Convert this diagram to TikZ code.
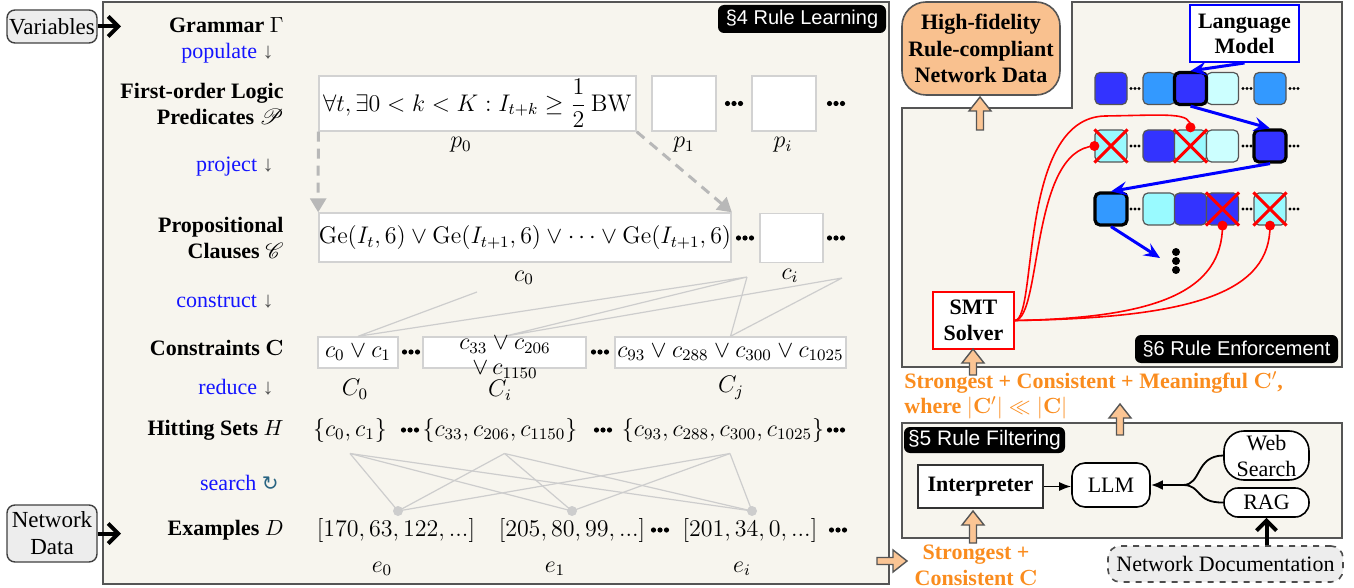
\documentclass[tikz,border=0pt]{standalone}
\usepackage{amsmath,amssymb,mathrsfs}
\usepackage[no-math]{fontspec}
\setmainfont{Liberation Serif}
\setsansfont{Liberation Sans}
\newfontfamily\djv{DejaVu Sans}
\usetikzlibrary{arrows.meta,calc}
\definecolor{panelbg}{RGB}{247,245,238}
\definecolor{edgec}{RGB}{85,85,85}
\definecolor{peach}{RGB}{251,197,148}
\definecolor{outorange}{RGB}{249,193,143}
\definecolor{orangetxt}{RGB}{250,140,30}
\definecolor{lgray}{RGB}{205,205,205}
\definecolor{boxgray}{RGB}{210,210,210}
\definecolor{dblue}{RGB}{51,51,255}
\definecolor{mblue}{RGB}{51,153,255}
\definecolor{xcyan}{RGB}{153,250,255}
\definecolor{pcyan}{RGB}{204,255,255}
\definecolor{labblue}{RGB}{20,20,255}
\definecolor{tealc}{RGB}{40,100,130}
\newcommand{\txtsz}{\fontsize{11}{13}\selectfont}
\newcommand{\mathsz}{\fontsize{12}{14}\selectfont}
\newcommand{\barrow}[3]{\filldraw[peachstyle, shift={#1}, rotate=#2] (-3.5,0) -- (-3.5,{-(#3-14)}) -- (-11,{-(#3-14)}) -- (0,-#3) -- (11,{-(#3-14)}) -- (3.5,{-(#3-14)}) -- (3.5,0) -- cycle;}
\tikzset{
  bigdots/.pic={\fill (-6.5,0) circle[radius=1.3pt] (0,0) circle[radius=1.3pt] (6.5,0) circle[radius=1.3pt];},
  smdots/.pic={\fill (-4,0) circle[radius=0.85pt] (0,0) circle[radius=0.85pt] (4,0) circle[radius=0.85pt];},
  vdots/.pic={\fill (0,-9) circle[radius=2pt] (0,0) circle[radius=2pt] (0,9) circle[radius=2pt];},
  panel/.style={draw=edgec, line width=0.8pt, fill=panelbg},
  tag/.style={fill=black, text=white, rounded corners=3pt, font=\sffamily\fontsize{10}{12}\selectfont, inner sep=0pt, minimum height=14pt},
  wbox/.style={draw=boxgray, line width=0.7pt, fill=white, inner sep=0pt, font=\mathsz},
  lbl/.style={anchor=east, align=right, font=\txtsz\bfseries, inner sep=0pt},
  act/.style={anchor=east, font=\txtsz, inner sep=0pt},
  mtxt/.style={font=\mathsz, inner sep=0pt},
  gline/.style={draw=lgray, line width=0.6pt},
  dasharr/.style={draw=black!28, line width=1.5pt, dash pattern=on 5pt off 3.5pt, -{Triangle[length=7pt,width=8pt]}},
  thickarr/.style={line width=2pt, -{Straight Barb[length=5pt,width=10pt]}},
  extn/.style={draw=black!75, fill=black!7, rounded corners=4pt, line width=0.7pt, inner sep=0pt, font=\txtsz, align=center},
  tok/.style={minimum size=16pt, inner sep=0pt, rounded corners=2.5pt, draw=edgec, line width=0.6pt},
  hl/.style={draw=black, line width=1.6pt},
  barr/.style={-{Stealth[length=8pt,width=7pt,inset=3pt]}, draw=blue, line width=1.5pt},
  redline/.style={draw=red, line width=0.8pt},
  redx/.style={draw=red, line width=1.5pt},
  rdot/.style={circle, fill=red, inner sep=0pt, minimum size=5pt},
  gdot/.style={circle, fill=lgray, inner sep=0pt, minimum size=5pt},
  otxt/.style={text=orangetxt},
  peachstyle/.style={fill=peach, draw=edgec, line width=0.7pt},
  rnd/.style={draw=black, line width=0.8pt, fill=white, font=\txtsz, inner sep=0pt},
}
\begin{document}
\begin{tikzpicture}[x=0.5pt,y=-0.5pt]
\useasboundingbox (0,0) rectangle (1354,588);
% ===== left panel =====
\draw[panel] (103,2) rectangle (889,584);
\node[tag, minimum width=84pt] (tag4) at (802,19) {§4 Rule Learning};

\node[extn, minimum width=45pt, minimum height=16.5pt, font=\fontsize{11.5}{13}\selectfont] (var) at (52,26.5) {Variables};
\node[extn, minimum width=45pt, minimum height=28.5pt, font=\fontsize{11.5}{13.5}\selectfont] (nd) at (52,533.5) {Network\\Data};
\coordinate (varin) at (121,26.5);
\coordinate (ndin) at (121,533.5);
\draw[thickarr] (var.east) -- (varin);
\draw[thickarr] (nd.east) -- (ndin);

% left labels
\node[lbl] (lg) at (284,25) {Grammar $\Gamma$};
\node[act] (lpop) at (274,53) {\textcolor{labblue}{populate} \textcolor{edgec}{↓}};
\node[lbl] (lfo) at (284,104) {First-order Logic\\Predicates $\mathscr{P}$};
\node[act] (lproj) at (274,167) {\textcolor{labblue}{project} \textcolor{edgec}{↓}};
\node[lbl] (lpc) at (284,238) {Propositional\\Clauses $\mathscr{C}$};
\node[act] (lcon) at (274,302) {\textcolor{labblue}{construct} \textcolor{edgec}{↓}};
\node[lbl] (lcs) at (284,348) {Constraints $\mathbf{C}$};
\node[act] (lred) at (274,387) {\textcolor{labblue}{reduce} \textcolor{edgec}{↓}};
\node[lbl] (lhs) at (284,430) {Hitting Sets $H$};
\node[act] (lsea) at (279,483) {\textcolor{labblue}{search} \textcolor{tealc}{\djv\fontsize{10}{12}\selectfont ↻}};
\node[lbl] (lex) at (284,530) {Examples $D$};

% predicates
\node[wbox, minimum width=158.5pt, minimum height=27.5pt] (p0) at (477.5,103.5) {$\forall t, \exists 0 < k < K : I_{t+k} \geq \dfrac{1}{2}\,\mathrm{BW}$};
\node[wbox, minimum width=32pt, minimum height=27.5pt] (p1) at (684,103.5) {};
\node[wbox, minimum width=32pt, minimum height=27.5pt] (pi) at (784,103.5) {};
\pic at (734,103.5) {bigdots};
\pic at (836,103.5) {bigdots};
\node[mtxt] (p0l) at (461,145) {$p_0$};
\node[mtxt] (p1l) at (684,145) {$p_1$};
\node[mtxt] (pil) at (783,145) {$p_i$};

% clauses
\node[wbox, minimum width=206pt, minimum height=24.5pt] (c0) at (525,237.5) {$\mathrm{Ge}(I_t,6)\vee\mathrm{Ge}(I_{t+1},6)\vee\cdots\vee\mathrm{Ge}(I_{t+1},6)$};
\node[wbox, minimum width=31.5pt, minimum height=24.5pt] (ci) at (791.5,238) {};
\pic at (745,238) {bigdots};
\pic at (836,238) {bigdots};
\node[mtxt] (c0l) at (524,278) {$c_0$};
\node[mtxt] (cil) at (790,276) {$c_i$};

\draw[dasharr] (p0.south west) -- (c0.north west);
\draw[dasharr] (p0.south east) -- (c0.north east);

% constraints
\coordinate (k0) at (477,292);
\coordinate (k1) at (747,277);
\coordinate (k2) at (842,278);
\node[wbox, minimum width=40pt, minimum height=15.5pt] (C0) at (358,352.5) {$c_0\vee c_1$};
\node[wbox, minimum width=81.5pt, minimum height=15.5pt] (Ci) at (504.5,352.5) {};
\node[wbox, minimum width=115.5pt, minimum height=15.5pt] (Cj) at (730.5,352.5) {$c_{93}\vee c_{288}\vee c_{300}\vee c_{1025}$};
\draw[gline] (C0.north) -- (k0) (C0.north) -- (k1)
  (Ci.north) -- (k1) (Ci.north) -- (k2) (Cj.north) -- (k1) (Cj.north) -- (k2);
\node[mtxt, align=center, font=\fontsize{12}{12.5}\selectfont] (Citxt) at (505,357.5) {$c_{33}\vee c_{206}$\\$\vee\, c_{1150}$};
\pic at (411,352) {bigdots};
\pic at (600,352) {bigdots};
\node[mtxt] (C0l) at (355,389) {$C_0$};
\node[mtxt] (Cil) at (500,390) {$C_i$};
\node[mtxt] (Cjl) at (731,388) {$C_j$};

% hitting sets
\node[mtxt] (h0) at (350,430) {$\{c_0,c_1\}$};
\node[mtxt] (h1) at (500,430) {$\{c_{33},c_{206},c_{1150}\}$};
\node[mtxt] (h2) at (723,430) {$\{c_{93},c_{288},c_{300},c_{1025}\}$};
\pic at (410,430) {bigdots};
\pic at (603,430) {bigdots};
\pic at (836,430) {bigdots};
\coordinate (u0) at (350,453.5);
\coordinate (u1) at (504.5,453.5);
\coordinate (u2) at (730,453.5);
\coordinate (b0c) at (398,511);
\coordinate (b1c) at (572,511);
\coordinate (b2c) at (752,511);
\foreach \u in {u0,u1,u2}{\foreach \b in {b0c,b1c,b2c}{\draw[gline] (\u) -- (\b);}}
\node[gdot] (b0) at (b0c) {};
\node[gdot] (b1) at (b1c) {};
\node[gdot] (b2) at (b2c) {};

% examples
\node[mtxt] (e0) at (396,530) {$[170,63,122,...]$};
\node[mtxt] (e1) at (572,530) {$[205,80,99,...]$};
\node[mtxt] (ei) at (750,530) {$[201,34,0,...]$};
\pic at (660,530) {bigdots};
\pic at (838,530) {bigdots};
\node[mtxt] (e0l) at (382,569) {$e_0$};
\node[mtxt] (e1l) at (555,569) {$e_1$};
\node[mtxt] (eil) at (742,569) {$e_i$};

% ===== right: rule enforcement =====
\draw[panel] (902,108) -- (1072,108) -- (1072,2) -- (1342,2) -- (1342,367) -- (902,367) -- cycle;
\node[tag, minimum width=101.5pt] (tag6) at (1236.5,349) {§6 Rule Enforcement};

\node[draw=edgec, line width=0.8pt, fill=outorange, rounded corners=12pt, minimum width=79pt, minimum height=46.5pt, align=center, font=\fontsize{11}{13.25}\selectfont\bfseries, inner sep=0pt] (out) at (981,48.5) {High-fidelity\\Rule-compliant\\Network Data};

\node[draw=blue, line width=1pt, fill=white, minimum width=54.5pt, minimum height=28.5pt, align=center, font=\fontsize{11}{12.5}\selectfont\bfseries, inner sep=0pt] (lm) at (1244.5,33.5) {Language\\Model};
\node[draw=red, line width=1pt, fill=white, minimum width=40.5pt, minimum height=28.5pt, align=center, font=\fontsize{11}{13}\selectfont\bfseries, inner sep=0pt] (smt) at (973.5,320.5) {SMT\\Solver};

% row 1
\node[tok, fill=dblue] (t11) at (1111,88.5) {};
\node[tok, fill=mblue] (t12) at (1159,88.5) {};
\node[tok, fill=pcyan] (t14) at (1222.5,88.5) {};
\node[tok, fill=mblue] (t15) at (1270,88.5) {};
\node[tok, hl, fill=dblue] (t13) at (1190.5,88.5) {};
% row 2
\node[tok, fill=xcyan] (t21) at (1111,146) {};
\node[tok, fill=dblue] (t22) at (1159,146) {};
\node[tok, fill=xcyan] (t23) at (1190.5,146) {};
\node[tok, fill=pcyan] (t24) at (1222.5,146) {};
\node[tok, hl, fill=dblue] (t25) at (1270,146) {};
% row 3
\node[tok, fill=xcyan] (t32) at (1159,209) {};
\node[tok, fill=dblue] (t33) at (1190.5,209) {};
\node[tok, fill=dblue] (t34) at (1222.5,209) {};
\node[tok, fill=xcyan] (t35) at (1270,209) {};
\node[tok, hl, fill=mblue] (t31) at (1111,209) {};
\foreach \y in {88.5,146,209}{
  \pic at (1135,\y) {smdots};
  \pic at (1247,\y) {smdots};
  \pic at (1294,\y) {smdots};
}
\foreach \t in {t21,t23,t34,t35}{
  \draw[redx] (\t.north west) -- (\t.south east) (\t.north east) -- (\t.south west);
}
\pic at (1176,261) {vdots};

% blue arrows
\coordinate (vd) at (1160,258);
\draw[barr] (lm.south) -- (t13.north);
\draw[barr] (t13.south) -- (t25.north);
\draw[barr] (t25.south) -- (t31.north);
\draw[barr] (t31.south) -- (vd);

% red curves
\node[rdot] (r1) at (t21.west) {};
\node[rdot] (r2) at ($(t23.north)+(0,-2)$) {};
\node[rdot] (r3) at (t34.south) {};
\node[rdot] (r4) at (t35.south) {};
\draw[redline] (smt.east) .. controls (1042,318) and (1030,150) .. (r1.center);
\draw[redline] (smt.east) .. controls (1038,318) and (1018,118) .. (1105,116) .. controls (1170,115) and (1191,112) .. (r2.center);
\draw[redline] (smt.east) .. controls (1160,318) and (1222,290) .. (r3.center);
\draw[redline] (smt.east) .. controls (1200,318) and (1270,290) .. (r4.center);

% orange text
\node[otxt, anchor=west, align=left, font=\fontsize{11}{12.5}\selectfont\bfseries, inner sep=0pt] (strong1) at (904,395) {Strongest + Consistent + Meaningful $\mathbf{C}'$,\\where $|\mathbf{C}'| \ll |\mathbf{C}|$};
\node[otxt, align=center, font=\fontsize{11}{13}\selectfont\bfseries, inner sep=0pt] (strong2) at (976,565) {Strongest +\\Consistent $\mathbf{C}$};

% ===== rule filtering =====
\draw[panel] (902,423) rectangle (1342,538);
\node[tag, minimum width=80.5pt, minimum height=13pt, font=\sffamily\fontsize{10.5}{12}\selectfont] (tag5) at (984.5,440) {§5 Rule Filtering};
\node[draw=black!80, line width=0.8pt, fill=white, minimum width=62.5pt, minimum height=21.5pt, font=\txtsz\bfseries, inner sep=0pt] (interp) at (980.5,486.5) {Interpreter};
\node[rnd, minimum width=39pt, minimum height=22pt, rounded corners=6.5pt] (llm) at (1111,485) {LLM};
\node[rnd, minimum width=42.5pt, minimum height=24.5pt, rounded corners=10pt, align=center, font=\fontsize{11}{13}\selectfont] (web) at (1266.5,455.5) {Web\\Search};
\node[rnd, minimum width=42.5pt, minimum height=14.5pt, rounded corners=7pt] (rag) at (1266.5,502.5) {RAG};
\draw[line width=0.8pt, -{Latex[length=6pt,width=4.5pt]}] (interp.east) -- (interp.east -| llm.west);
\coordinate (jn) at (1183,485);
\draw[line width=0.9pt] (web.west) .. controls (1195,456) and (1202,485) .. (jn);
\draw[line width=0.9pt] (rag.west) .. controls (1195,503) and (1202,485) .. (jn);
\draw[line width=1.2pt, -{Latex[length=6pt,width=5pt]}] (jn) -- (llm.east);

\node[draw=black!70, dashed, line width=0.8pt, fill=black!7, rounded corners=6pt, minimum width=117.5pt, minimum height=18pt, font=\txtsz, inner sep=0pt] (doc) at (1225.5,564) {Network Documentation};
\draw[thickarr] (doc.north -| rag.south) -- (rag.south);

% block arrows
\barrow{(980,130)}{0}{33}
\barrow{(973,375)}{0}{26}
\barrow{(1120,435)}{0}{31}
\barrow{(973,543)}{0}{32}
\barrow{(877,561)}{-90}{30}
\end{tikzpicture}
\end{document}
